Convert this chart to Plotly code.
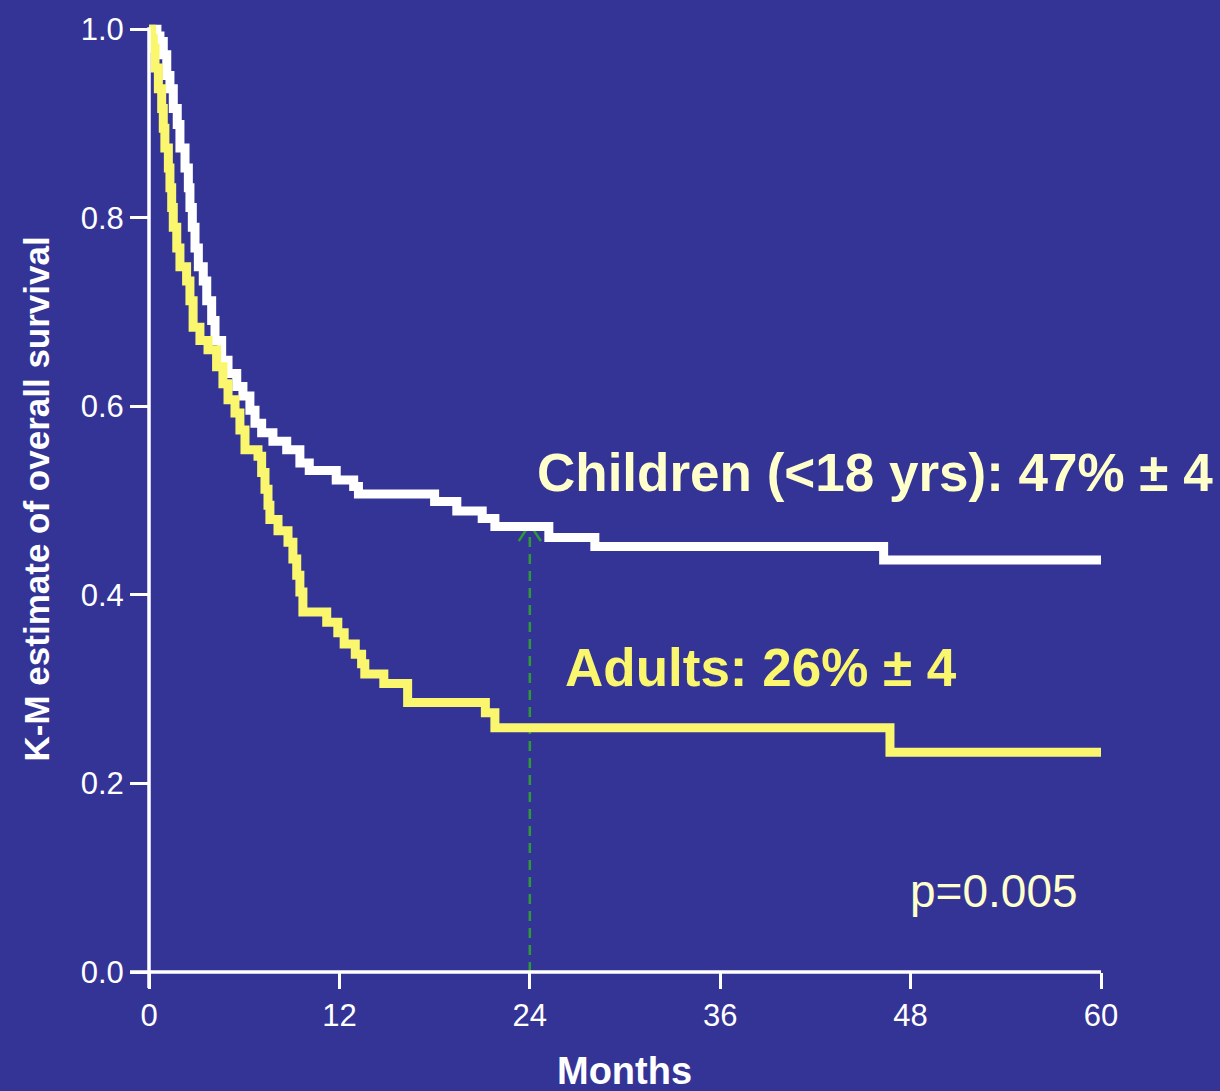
import plotly.graph_objects as go

# ---- data ----
children_months = [0, 0.5, 0.69, 0.90, 1.12, 1.32, 1.53, 1.78, 1.95, 2.27, 2.48, 2.58, 2.73, 2.90,
                   3.11, 3.42, 3.64, 3.95, 4.16, 4.58, 4.98, 5.53, 5.92, 6.36, 6.68, 7.10, 7.81,
                   8.68, 9.51, 10.1, 11.8, 12.9, 13.2, 18.0, 19.4, 21.0, 21.8, 25.2, 28.1, 46.3, 60]
children_surv = [1.0, 0.993, 0.987, 0.973, 0.951, 0.937, 0.916, 0.899, 0.874, 0.853, 0.832, 0.811,
                 0.790, 0.768, 0.748, 0.733, 0.712, 0.691, 0.670, 0.649, 0.635, 0.621, 0.611, 0.596,
                 0.582, 0.572, 0.563, 0.554, 0.540, 0.532, 0.522, 0.515, 0.507, 0.499, 0.489, 0.481,
                 0.4725, 0.461, 0.4515, 0.437, 0.437]

adults_months = [0, 0.17, 0.27, 0.38, 0.59, 0.8, 0.9, 1.0, 1.22, 1.32, 1.43, 1.53, 1.75, 1.95,
                 2.37, 2.58, 2.78, 3.21, 3.72, 4.26, 4.66, 4.98, 5.42, 5.73, 6.05, 6.87, 7.10,
                 7.31, 7.5, 7.62, 8.13, 8.76, 9.07, 9.31, 9.51, 9.7, 11.2, 11.9, 12.3, 13.0, 13.4,
                 13.6, 14.8, 16.3, 21.2, 21.8, 46.7, 60]
adults_surv = [1.0, 0.990, 0.980, 0.959, 0.937, 0.916, 0.895, 0.874, 0.853, 0.832, 0.811, 0.790,
               0.768, 0.748, 0.733, 0.712, 0.684, 0.670, 0.660, 0.642, 0.624, 0.607, 0.593, 0.575,
               0.554, 0.547, 0.530, 0.512, 0.495, 0.480, 0.468, 0.456, 0.438, 0.421, 0.403, 0.382,
               0.371, 0.360, 0.348, 0.337, 0.327, 0.316, 0.306, 0.286, 0.275, 0.259, 0.233, 0.233]

x_ticks = [0, 12, 24, 36, 48, 60]
y_ticks = [0.0, 0.2, 0.4, 0.6, 0.8, 1.0]
y_tick_labels = ["0.0", "0.2", "0.4", "0.6", "0.8", "1.0"]

ref_month = 24
children_at_ref = 0.475

children_label = "Children (<18 yrs): 47% \u00b1 4"
adults_label = "Adults: 26% \u00b1 4"
p_label = "p=0.005"

# ---- style ----
BG = "#343497"
YELLOW = "#FAF76E"
CREAM = "#FFFFCC"
GREEN = "#2E9A35"

fig = go.Figure()

# dashed reference arrow at 24 months
fig.add_trace(go.Scatter(
    x=[ref_month, ref_month], y=[0, children_at_ref - 0.004],
    mode="lines", line=dict(color=GREEN, width=2.5, dash="10px,7px"),
    hoverinfo="skip", showlegend=False))
fig.add_trace(go.Scatter(
    x=[ref_month - 0.7, ref_month, ref_month + 0.7],
    y=[children_at_ref - 0.018, children_at_ref, children_at_ref - 0.018],
    mode="lines", line=dict(color=GREEN, width=2.5),
    hoverinfo="skip", showlegend=False))

fig.add_trace(go.Scatter(
    x=children_months, y=children_surv, mode="lines",
    line=dict(color="white", width=9, shape="hv"),
    name="Children", showlegend=False))
fig.add_trace(go.Scatter(
    x=adults_months, y=adults_surv, mode="lines",
    line=dict(color=YELLOW, width=9, shape="hv"),
    name="Adults", showlegend=False))

L, R, T, B = 149, 119, 13, 119
W, H = 1220, 1091
pw = W - L - R
ph = H - T - B
YMAX = 1.012

# axis lines (extend past the origin as in the reference)
fig.add_shape(type="line", xref="paper", yref="paper",
              x0=0, x1=0, y0=-16 / ph, y1=1.0 / YMAX + 2 / ph,
              line=dict(color="white", width=3.5))
fig.add_shape(type="line", xref="paper", yref="paper",
              x0=-19 / pw, x1=1.0, y0=0, y1=0,
              line=dict(color="white", width=3.5))

fig.add_annotation(x=24.3, y=0.530, xref="x", yref="y", text=children_label,
                   showarrow=False, xanchor="left", yanchor="middle",
                   font=dict(family="Liberation Sans, Arial, sans-serif", size=53, color=CREAM, weight="bold"))
fig.add_annotation(x=26.1, y=0.323, xref="x", yref="y", text=adults_label,
                   showarrow=False, xanchor="left", yanchor="middle",
                   font=dict(family="Liberation Sans, Arial, sans-serif", size=53, color=YELLOW, weight="bold"))
fig.add_annotation(x=47.85, y=0.086, xref="x", yref="y", text=p_label,
                   showarrow=False, xanchor="left", yanchor="middle",
                   font=dict(family="Liberation Sans, Arial, sans-serif", size=46, color=CREAM))

fig.add_annotation(x=(36 - L) / pw, y=(H - B - 497) / ph, xref="paper", yref="paper",
                   text="K-M estimate of overall survival", textangle=-90,
                   showarrow=False, xanchor="center", yanchor="middle",
                   font=dict(family="Liberation Sans, Arial, sans-serif",
                             size=35, color="white", weight="bold"))
fig.add_annotation(x=(624 - L) / pw, y=-(1072 - (H - B)) / ph, xref="paper", yref="paper",
                   text="Months", showarrow=False, xanchor="center", yanchor="middle",
                   font=dict(family="Liberation Sans, Arial, sans-serif",
                             size=38, color="white", weight="bold"))

fig.update_xaxes(range=[0, 60], tickvals=x_ticks, ticktext=[str(v) for v in x_ticks],
                 showgrid=False, zeroline=False, showline=False,
                 ticks="outside", ticklen=16, tickwidth=3, tickcolor="white",
                 tickfont=dict(family="Liberation Sans, Arial, sans-serif", size=31, color="white"))
fig.update_yaxes(range=[0, YMAX], tickvals=y_ticks, ticktext=y_tick_labels,
                 showgrid=False, zeroline=False, showline=False,
                 ticks="outside", ticklen=18, tickwidth=3, tickcolor="white",
                 tickfont=dict(family="Liberation Sans, Arial, sans-serif", size=31, color="white"))

fig.update_layout(width=W, height=H, margin=dict(l=L, r=R, t=T, b=B),
                  paper_bgcolor=BG, plot_bgcolor=BG, showlegend=False)

fig.write_html("out.html", config={"displayModeBar": False})

# remove the default page margin so the figure sits at the window's top-left corner
with open("out.html", "r", encoding="utf-8") as f:
    html = f.read()
html = html.replace("<body>", '<body style="margin:0;padding:0;background:%s;">' % BG, 1)
html = html.replace("<head>", "<head><style>html,body{margin:0;padding:0;overflow:hidden;}</style>", 1)
with open("out.html", "w", encoding="utf-8") as f:
    f.write(html)
